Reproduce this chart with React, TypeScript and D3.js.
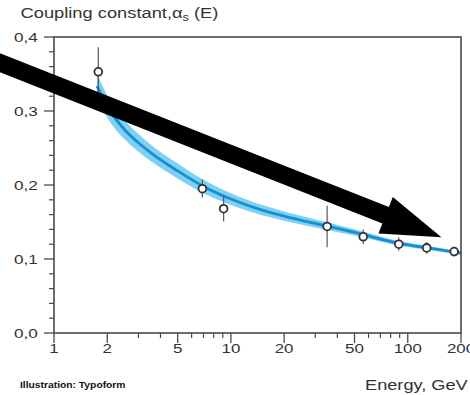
import React from "react";
import * as d3 from "d3";

// Measured strong coupling values with their uncertainties
const energies = [1.78, 6.9, 9.1, 35, 56, 89, 128, 183];
const alphaValues = [0.353, 0.195, 0.168, 0.144, 0.13, 0.12, 0.115, 0.11];
const alphaErrors = [0.033, 0.012, 0.017, 0.028, 0.01, 0.009, 0.008, 0.003];

// Running coupling prediction (central value and band half-width)
const curveEnergies = [1.75, 2, 2.5, 3, 3.5, 5, 7, 10, 15, 20, 35, 50, 90, 130, 200];
const curveAlpha = [0.334, 0.306, 0.275, 0.257, 0.244, 0.219, 0.198, 0.181, 0.166, 0.158, 0.1445, 0.136, 0.121, 0.115, 0.108];
const curveSpread = [0.017, 0.015, 0.013, 0.012, 0.0112, 0.0102, 0.0092, 0.008, 0.007, 0.0063, 0.0052, 0.0042, 0.0031, 0.0026, 0.0022];

// Axis ticks
const xMajorTicks = [1, 2, 5, 10, 20, 50, 100, 200];
const xMinorTicks = [3, 4, 6, 7, 8, 9, 30, 40, 60, 70, 80, 90];
const yMajorTicks = [0, 0.1, 0.2, 0.3, 0.4];
const yMinorStep = 0.02;

// Trend arrow, in data units (energy, coupling)
const arrowFrom = { e: 0.4, a: 0.374 };
const arrowTo = { e: 155, a: 0.1293 };

const W = 470;
const H = 395;
const FONT = "'Liberation Sans', Arial, Helvetica, sans-serif";
const INK = "#333";
const AXIS = "#4a4a4a";

function Stretched(props: {
  x: number;
  y: number;
  sx: number;
  size: number;
  anchor?: string;
  weight?: string | number;
  fill?: string;
  family?: string;
  children: React.ReactNode;
}) {
  const { x, y, sx, size, anchor = "start", weight = "normal", fill = INK, family = FONT, children } = props;
  return (
    <g transform={`translate(${x},${y}) scale(${sx},1)`}>
      <text
        x={0}
        y={0}
        textAnchor={anchor}
        fontSize={size}
        fontWeight={weight}
        fill={fill}
        fontFamily={family}
      >
        {children}
      </text>
    </g>
  );
}

export default function App() {
  const x = d3.scaleLog().domain([1, 200]).range([54, 461]);
  const y = d3.scaleLinear().domain([0, 0.4]).range([333, 37]);

  const curve = curveEnergies.map((e, i) => ({ e, a: curveAlpha[i], s: curveSpread[i] }));
  const band = d3
    .area<{ e: number; a: number; s: number }>()
    .x((d) => x(d.e))
    .y0((d) => y(d.a - d.s))
    .y1((d) => y(d.a + d.s))
    .curve(d3.curveMonotoneX);
  const centre = d3
    .line<{ e: number; a: number; s: number }>()
    .x((d) => x(d.e))
    .y((d) => y(d.a))
    .curve(d3.curveMonotoneX);

  const points = energies.map((e, i) => ({ e, a: alphaValues[i], err: alphaErrors[i] }));

  const yMinor = d3
    .range(0, 0.4 + 1e-9, yMinorStep)
    .filter((v) => !yMajorTicks.some((m) => Math.abs(m - v) < 1e-6));
  const fmtY = (v: number) => d3.format(".1f")(v).replace(".", ",");

  // Arrow geometry
  const ax0 = x(arrowFrom.e);
  const ay0 = y(arrowFrom.a);
  const ax1 = x(arrowTo.e);
  const ay1 = y(arrowTo.a);
  const len = Math.hypot(ax1 - ax0, ay1 - ay0);
  const ux = (ax1 - ax0) / len;
  const uy = (ay1 - ay0) / len;
  const px = -uy;
  const py = ux;
  const shaftHalf = 8.8;
  const headHalf = 19.5;
  const headLen = 60;
  const bx = ax1 - ux * headLen;
  const by = ay1 - uy * headLen;
  const arrowPts = [
    [ax0 + px * shaftHalf, ay0 + py * shaftHalf],
    [bx + px * shaftHalf, by + py * shaftHalf],
    [bx + px * headHalf, by + py * headHalf],
    [ax1, ay1],
    [bx - px * headHalf, by - py * headHalf],
    [bx - px * shaftHalf, by - py * shaftHalf],
    [ax0 - px * shaftHalf, ay0 - py * shaftHalf],
  ]
    .map((p) => p.join(","))
    .join(" ");

  const [xl, xr] = x.range();
  const [yb, yt] = y.range();

  return (
    <svg
      width={W}
      height={H}
      viewBox={`0 0 ${W} ${H}`}
      style={{ position: "absolute", left: 0, top: 0, background: "#fff" }}
    >
      <rect x={0} y={0} width={W} height={H} fill="#fff" />

      {/* title */}
      <g transform="translate(20.5,18.3) scale(1.22,1)">
        <text fontSize={15} fill={INK} fontFamily={FONT}>
          Coupling constant,α
          <tspan fontSize={10.5} dy={3}>s</tspan>
          <tspan dy={-3}> (E)</tspan>
        </text>
      </g>

      {/* prediction band */}
      <path d={band(curve) || ""} fill="#7fd0f3" />
      <path d={centre(curve) || ""} fill="none" stroke="#1590d2" strokeWidth={2.8} />

      {/* frame */}
      <rect x={xl} y={yt} width={xr - xl} height={yb - yt} fill="none" stroke={AXIS} strokeWidth={1.6} />

      {/* y ticks */}
      {yMajorTicks.map((v) => (
        <g key={`ym${v}`}>
          <line x1={xl - 10} x2={xl} y1={y(v)} y2={y(v)} stroke={AXIS} strokeWidth={1.3} />
          <Stretched x={37.8} y={y(v) + 4.7} sx={1.32} size={13} anchor="end">
            {fmtY(v)}
          </Stretched>
        </g>
      ))}
      {yMinor.map((v) => (
        <line key={`yn${v}`} x1={xl - 5} x2={xl} y1={y(v)} y2={y(v)} stroke={AXIS} strokeWidth={1.2} />
      ))}

      {/* x ticks */}
      {xMajorTicks.map((v) => (
        <g key={`xm${v}`}>
          <line x1={x(v)} x2={x(v)} y1={yb} y2={yb + 10} stroke={AXIS} strokeWidth={1.3} />
          <Stretched x={x(v)} y={352.5} sx={1.3} size={13} anchor="middle">
            {String(v)}
          </Stretched>
        </g>
      ))}
      {xMinorTicks.map((v) => (
        <line key={`xn${v}`} x1={x(v)} x2={x(v)} y1={yb} y2={yb + 5} stroke={AXIS} strokeWidth={1.2} />
      ))}

      {/* measurements */}
      {points.map((p, i) => (
        <g key={`pt${i}`}>
          <line
            x1={x(p.e)}
            x2={x(p.e)}
            y1={y(p.a + p.err)}
            y2={y(p.a - p.err)}
            stroke="#555"
            strokeWidth={1.2}
          />
          <circle cx={x(p.e)} cy={y(p.a)} r={3.9} fill="#fff" stroke="#333" strokeWidth={1.8} />
        </g>
      ))}

      {/* trend arrow */}
      <polygon points={arrowPts} fill="#000" />

      {/* axis title and credit */}
      <Stretched x={365} y={389.5} sx={1.3} size={14}>
        Energy, GeV
      </Stretched>
      <Stretched x={20} y={388} sx={1.12} size={9.2} weight="bold" fill="#111">
        Illustration: Typoform
      </Stretched>
    </svg>
  );
}
